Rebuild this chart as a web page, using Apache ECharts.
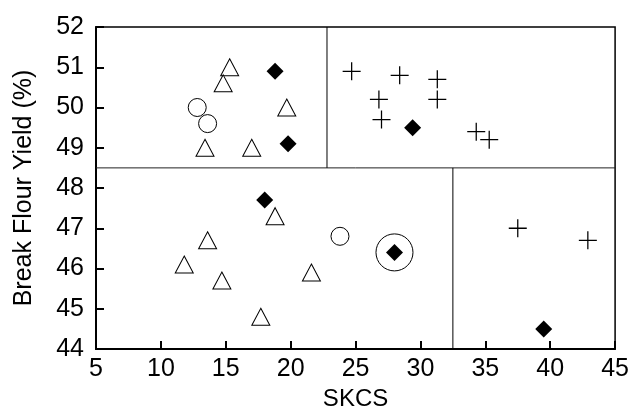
<!DOCTYPE html>
<html>
<head>
<meta charset="utf-8">
<script src="https://cdn.jsdelivr.net/npm/echarts@6/dist/echarts.min.js"></script>
<style>html,body{margin:0;padding:0;background:#fff}#c{width:632px;height:419px}</style>
</head>
<body>
<div id="c"></div>
<script>
// Data
var triangles = [[15.3,51.0],[14.8,50.6],[13.4,49.0],[17.0,49.0],[19.7,50.0],
                 [18.8,47.3],[13.6,46.7],[11.8,46.1],[14.7,45.7],[17.7,44.8],[21.6,45.9]];
var circles = [[12.8,50.0],[13.6,49.6],[23.8,46.8]];
var diamonds = [[18.8,50.9],[19.8,49.1],[29.4,49.5],[18.0,47.7],[28.0,46.4],[39.5,44.5]];
var pluses = [[24.7,50.9],[28.4,50.8],[31.3,50.7],[31.3,50.2],[26.8,50.2],[27.0,49.7],
              [34.3,49.4],[35.3,49.2],[37.5,47.0],[42.9,46.7]];
var highlighted = [[28.0,46.4]];
var hDivider = [[5,48.5],[45,48.5]];
var vDividerUpper = [[22.8,48.5],[22.8,52]];
var vDividerLower = [[32.5,44],[32.5,48.5]];
var xTicks = {min:5, max:45, interval:5};
var yTicks = {min:44, max:52, interval:1};

var font = 'Liberation Sans, Arial, sans-serif';
var plusPath = 'path://M0,4.65H10V5.35H0Z M4.65,0H5.35V10H4.65Z';

var chart = echarts.init(document.getElementById('c'));
chart.setOption({
  animation:false,
  backgroundColor:'#fff',
  grid:{left:96,right:16,top:27,bottom:70,show:true,borderColor:'#000',borderWidth:1.5,backgroundColor:'transparent'},
  xAxis:{type:'value',min:xTicks.min,max:xTicks.max,interval:xTicks.interval,
    name:'SKCS',nameLocation:'middle',nameGap:38,
    nameTextStyle:{fontFamily:font,fontSize:24,color:'#000'},
    axisLine:{show:true,lineStyle:{color:'#000',width:2}},
    axisTick:{show:true,inside:true,length:8,lineStyle:{color:'#000',width:2}},
    axisLabel:{fontFamily:font,fontSize:25,color:'#000',margin:8},
    splitLine:{show:false}},
  yAxis:{type:'value',min:yTicks.min,max:yTicks.max,interval:yTicks.interval,
    name:'Break Flour Yield (%)',nameLocation:'middle',nameGap:59,
    nameTextStyle:{fontFamily:font,fontSize:25,color:'#000'},
    axisLine:{show:true,lineStyle:{color:'#000',width:2}},
    axisTick:{show:true,inside:true,length:8,lineStyle:{color:'#000',width:2}},
    axisLabel:{fontFamily:font,fontSize:25,color:'#000',margin:12},
    splitLine:{show:false}},
  series:[
    {type:'line',data:hDivider,symbol:'none',lineStyle:{color:'#222',width:1},silent:true},
    {type:'line',data:vDividerUpper,symbol:'none',lineStyle:{color:'#000',width:1},silent:true},
    {type:'line',data:vDividerLower,symbol:'none',lineStyle:{color:'#000',width:1},silent:true},
    {type:'scatter',data:highlighted,symbol:'circle',symbolSize:37,
      itemStyle:{color:'rgba(0,0,0,0)',borderColor:'#000',borderWidth:1,opacity:1}},
    {type:'scatter',data:triangles,symbol:'triangle',symbolSize:[18,17],
      itemStyle:{color:'#fff',borderColor:'#000',borderWidth:1,opacity:1}},
    {type:'scatter',data:circles,symbol:'circle',symbolSize:18,
      itemStyle:{color:'#fff',borderColor:'#000',borderWidth:1,opacity:1}},
    {type:'scatter',data:pluses,symbol:plusPath,symbolSize:18,
      itemStyle:{color:'#000',opacity:1}},
    {type:'scatter',data:diamonds,symbol:'diamond',symbolSize:17,
      itemStyle:{color:'#000',opacity:1}}
  ]
});
</script>
</body>
</html>
